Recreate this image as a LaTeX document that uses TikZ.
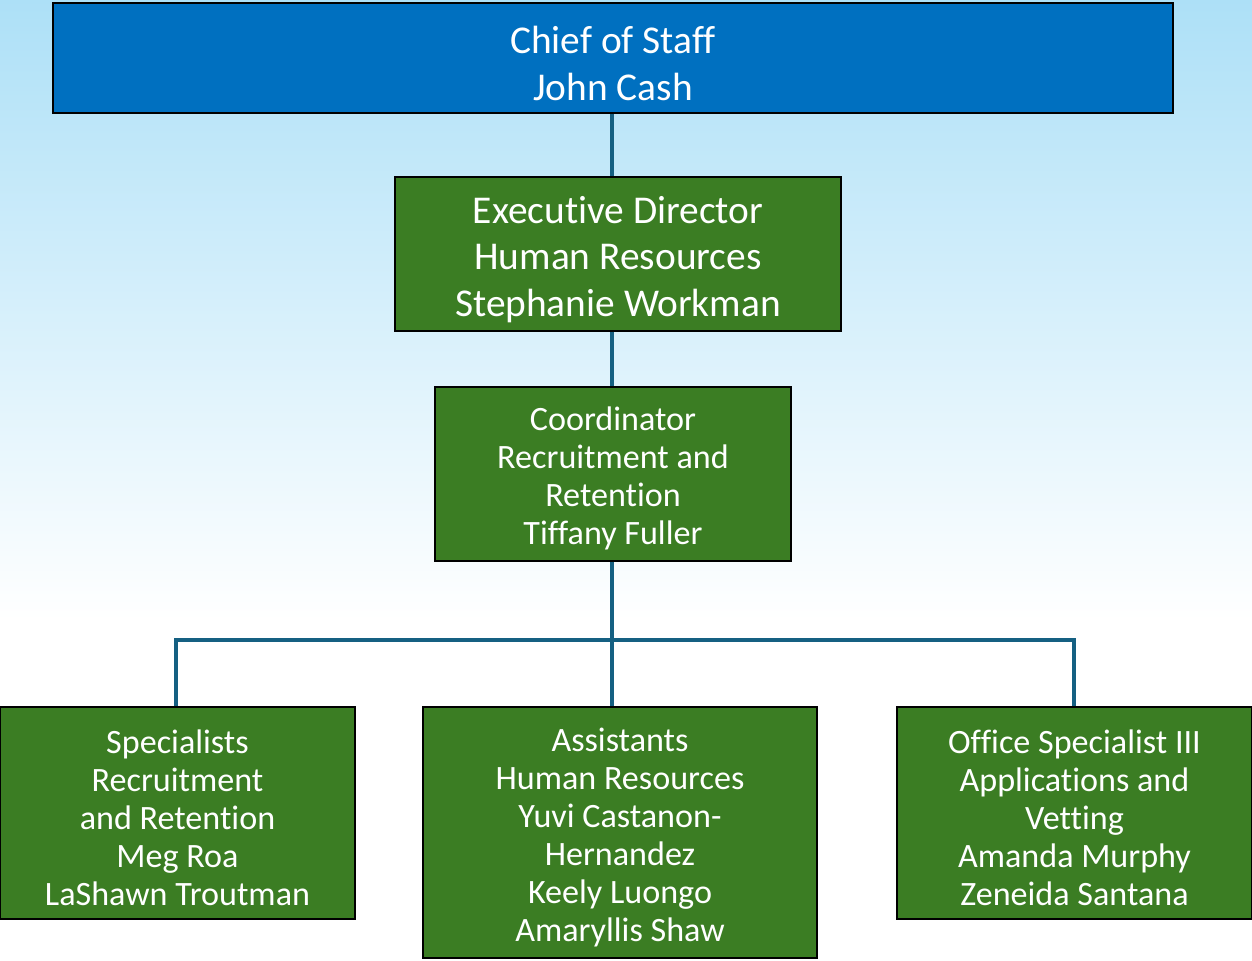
\documentclass[tikz,border=0pt]{standalone}
\usepackage{fontspec}
\setmainfont[Ligatures=NoCommon]{Carlito}
\usepackage{tikz}
\usetikzlibrary{positioning, calc}
\definecolor{chiefblue}{HTML}{0070C0}
\definecolor{hrgreen}{HTML}{3B7D23}
\definecolor{linkblue}{HTML}{156082}
\definecolor{skyblue}{HTML}{ADE0F7}
\newcommand{\toppad}{\rule{0pt}{0.97em}}

\begin{document}
\begin{tikzpicture}[x=0.01cm, y=-0.01cm,
  orgbox/.style={draw=black, line width=0.7pt, fill=hrgreen, text=white,
    align=center, inner sep=0pt},
  link/.style={draw=linkblue, line width=0.9pt},
  big/.style={font=\fontsize{11.2}{13.1}\selectfont},
  small/.style={font=\fontsize{9.7}{10.8}\selectfont}]
% background
\shade[top color=skyblue, bottom color=white] (0,0) rectangle (1252,620);
\fill[white] (0,620) rectangle (1252,960);
\useasboundingbox (0,0) rectangle (1252,960);

% boxes
\node[orgbox, big, fill=chiefblue, minimum width=318.6pt, minimum height=31.3pt] (chief) at (613,58) {\toppad Chief of Staff\\John Cash};
\node[orgbox, big, minimum width=126.9pt, minimum height=43.8pt] (exec) at (618,254) {\toppad Executive Director\\Human Resources\\Stephanie Workman};
\node[orgbox, small, minimum width=101.3pt, minimum height=49.5pt] (coord) at (613,474) {\toppad Coordinator\\Recruitment and\\Retention\\Tiffany Fuller};
\node[orgbox, small, minimum width=101pt, minimum height=60.3pt] (spec) at (177.5,813) {\toppad Specialists\\Recruitment\\and Retention\\Meg Roa\\LaShawn Troutman};
\node[orgbox, small, minimum width=112.1pt, minimum height=71.4pt] (assist) at (620,832.5) {\toppad Assistants\\Human Resources\\Yuvi Castanon-\\Hernandez\\Keely Luongo\\Amaryllis Shaw};
\node[orgbox, small, minimum width=101pt, minimum height=60.3pt] (office) at (1074.5,813) {\toppad Office Specialist III\\Applications and\\Vetting\\Amanda Murphy\\Zeneida Santana};

% connectors
\draw[link] (chief.south -| 612,0) -- (exec.north -| 612,0);
\draw[link] (exec.south -| 612,0) -- (coord.north -| 612,0);
\coordinate (bus) at (612,640);
\draw[link] (coord.south -| bus) -- (bus);
\draw[link] (bus) -- (assist.north -| bus);
\draw[link] (bus) -| (spec.north -| 176,0);
\draw[link] (bus) -| (office.north -| 1074,0);
\end{tikzpicture}
\end{document}
